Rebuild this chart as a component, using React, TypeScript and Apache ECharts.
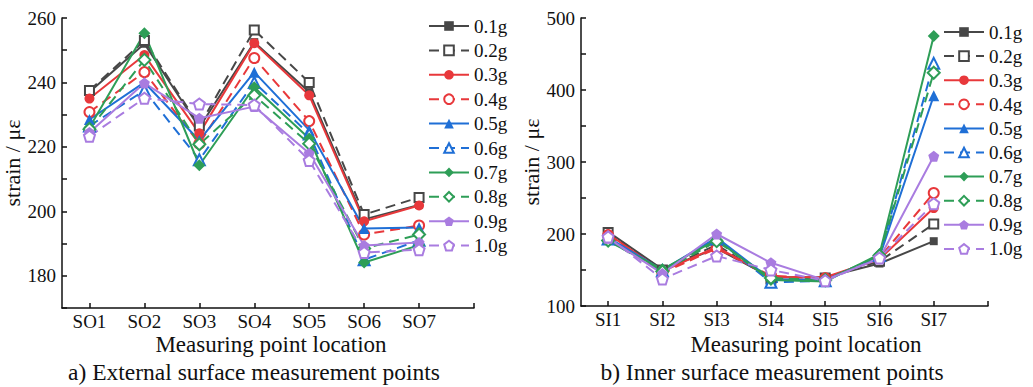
import React, { useEffect, useRef } from "react";
import * as echarts from "echarts";

const outerCats = ["SO1", "SO2", "SO3", "SO4", "SO5", "SO6", "SO7"];
const innerCats = ["SI1", "SI2", "SI3", "SI4", "SI5", "SI6", "SI7"];
const levels = ["0.1g", "0.2g", "0.3g", "0.4g", "0.5g", "0.6g", "0.7g", "0.8g", "0.9g", "1.0g"];

// External surface (SO1..SO7)
const outer01 = [237, 252, 226, 252.5, 237, 197.5, 202];
const outer02 = [237.5, 253, 226.5, 256.3, 240, 199, 204.3];
const outer03 = [235, 248.5, 224.2, 252.2, 236, 196.9, 201.8];
const outer04 = [230.8, 243.2, 221, 247.6, 228, 192.8, 195.6];
const outer05 = [228.5, 240, 222, 243.2, 225.2, 194.7, 195];
const outer06 = [226.5, 237.5, 216, 240, 224, 185, 191];
const outer07 = [226, 255.3, 214.3, 238.5, 222.6, 184.1, 189.5];
const outer08 = [225.5, 247, 220.8, 236, 221, 188.5, 192.8];
const outer09 = [224.5, 239.8, 228.9, 232.5, 218, 189.4, 190.3];
const outer10 = [223.3, 235.1, 233.3, 233, 215.8, 187.2, 188.1];

// Inner surface (SI1..SI7)
const inner01 = [203, 151, 180, 140, 140, 159, 190];
const inner02 = [202, 150, 185, 138, 139, 162, 214];
const inner03 = [200, 148, 182, 140, 140, 165, 236];
const inner04 = [198, 146, 180, 142, 138, 167, 257];
const inner05 = [195, 150, 195, 137, 136, 168, 392];
const inner06 = [193, 149, 193, 133, 135, 170, 437];
const inner07 = [190, 151, 192, 136, 134, 172, 475];
const inner08 = [191, 148, 190, 139, 136, 170, 424];
const inner09 = [194, 145, 200, 160, 136, 166, 308];
const inner10 = [196, 137.5, 169.4, 150, 135, 166.7, 242];

const outerData = [outer01, outer02, outer03, outer04, outer05, outer06, outer07, outer08, outer09, outer10];
const innerData = [inner01, inner02, inner03, inner04, inner05, inner06, inner07, inner08, inner09, inner10];

const DARK = "#474747";
const RED = "#e8383b";
const BLUE = "#1f6fd6";
const GREEN = "#2e9e57";
const PURPLE = "#a97ce0";
const PENT = "path://M0,-10 L9.51,-3.09 L5.88,8.09 L-5.88,8.09 L-9.51,-3.09 Z";

const styles = [
  { color: DARK, symbol: "rect", filled: true, dashed: false, size: 8 },
  { color: DARK, symbol: "rect", filled: false, dashed: true, size: 9 },
  { color: RED, symbol: "circle", filled: true, dashed: false, size: 10 },
  { color: RED, symbol: "circle", filled: false, dashed: true, size: 10 },
  { color: BLUE, symbol: "triangle", filled: true, dashed: false, size: 11 },
  { color: BLUE, symbol: "triangle", filled: false, dashed: true, size: 11 },
  { color: GREEN, symbol: "diamond", filled: true, dashed: false, size: 12 },
  { color: GREEN, symbol: "diamond", filled: false, dashed: true, size: 12 },
  { color: PURPLE, symbol: PENT, filled: true, dashed: false, size: 11 },
  { color: PURPLE, symbol: PENT, filled: false, dashed: true, size: 11 },
];

const FONT = "Liberation Serif";

function makeSeries(data: number[][], idx: number) {
  return data.map((vals, k) => {
    const s = styles[k];
    return {
      type: "line",
      name: levels[k],
      xAxisIndex: idx,
      yAxisIndex: idx,
      data: vals.map((v, i) => [i + 1, v]),
      symbol: s.symbol,
      symbolSize: s.size,
      showSymbol: true,
      lineStyle: { color: s.color, width: 2, type: s.dashed ? [10, 6] : "solid" },
      itemStyle: s.filled
        ? { color: s.color, borderWidth: 0 }
        : { color: "#ffffff", borderColor: s.color, borderWidth: 2 },
      emphasis: { disabled: true },
    };
  });
}

function xAxisFor(cats: string[], idx: number) {
  return {
    type: "value",
    gridIndex: idx,
    min: 0.5,
    max: 8,
    axisLine: { show: true, lineStyle: { color: "#111", width: 1.5 } },
    axisTick: { show: true, inside: true, length: 5, customValues: [1, 2, 3, 4, 5, 6, 7, 8], lineStyle: { color: "#111", width: 1.5 } },
    axisLabel: {
      customValues: [1, 2, 3, 4, 5, 6, 7],
      formatter: (v: number) => cats[Math.round(v) - 1] ?? "",
      fontFamily: FONT,
      fontSize: 19,
      lineHeight: 19,
      color: "#111",
      margin: 4,
    },
    splitLine: { show: false },
  };
}

function yAxisFor(idx: number, min: number, max: number, interval: number, labelStep: number) {
  return {
    type: "value",
    gridIndex: idx,
    min,
    max,
    interval,
    name: "strain / με",
    nameLocation: "middle",
    nameGap: 37,
    nameTextStyle: { fontFamily: FONT, fontSize: 22, color: "#111" },
    axisLine: { show: true, lineStyle: { color: "#111", width: 1.5 } },
    axisTick: { show: true, inside: true, length: 5, lineStyle: { color: "#111", width: 1.5 } },
    axisLabel: {
      formatter: (v: number) => ((v - (min + (labelStep === 20 ? 10 : 0))) % labelStep === 0 ? String(v) : ""),
      fontFamily: FONT,
      fontSize: 19,
      color: "#111",
      margin: 6,
    },
    splitLine: { show: false },
  };
}

function legendFor(left: number, top: number, gap: number) {
  return {
    orient: "vertical",
    left,
    top,
    itemWidth: 40,
    itemHeight: 12,
    itemGap: gap,
    padding: 0,
    data: levels,
    selectedMode: false,
    textStyle: { fontFamily: FONT, fontSize: 19, color: "#111" },
  };
}

export default function App() {
  const ref = useRef<HTMLDivElement>(null);
  useEffect(() => {
    if (!ref.current) return;
    const chart = echarts.init(ref.current, null, { renderer: "svg" });
    const t = (text: string, x: number, y: number, size: number) => ({
      type: "text",
      x,
      y,
      style: { text, font: `${size}px "${FONT}"`, fill: "#111", align: "center", verticalAlign: "middle" },
    });
    chart.setOption({
      animation: false,
      backgroundColor: "#ffffff",
      grid: [
        { left: 62, top: 18, width: 412, height: 290, containLabel: false },
        { left: 581, top: 18, width: 407, height: 288, containLabel: false },
      ],
      xAxis: [xAxisFor(outerCats, 0), xAxisFor(innerCats, 1)],
      yAxis: [yAxisFor(0, 170, 260, 10, 20), yAxisFor(1, 100, 500, 50, 100)],
      legend: [legendFor(428, 16.5, 5.4), legendFor(943, 22.5, 5.1)],
      series: [...makeSeries(outerData, 0), ...makeSeries(innerData, 1)],
      graphic: [
        t("Measuring point location", 271, 344, 23),
        t("Measuring point location", 806, 344, 23),
        t("a) External surface measurement points", 254, 372, 23.5),
        t("b) Inner surface measurement points", 772, 372, 23.5),
      ],
    });
    return () => chart.dispose();
  }, []);
  return <div ref={ref} style={{ position: "fixed", left: 0, top: 0, width: 1033, height: 387 }} />;
}
